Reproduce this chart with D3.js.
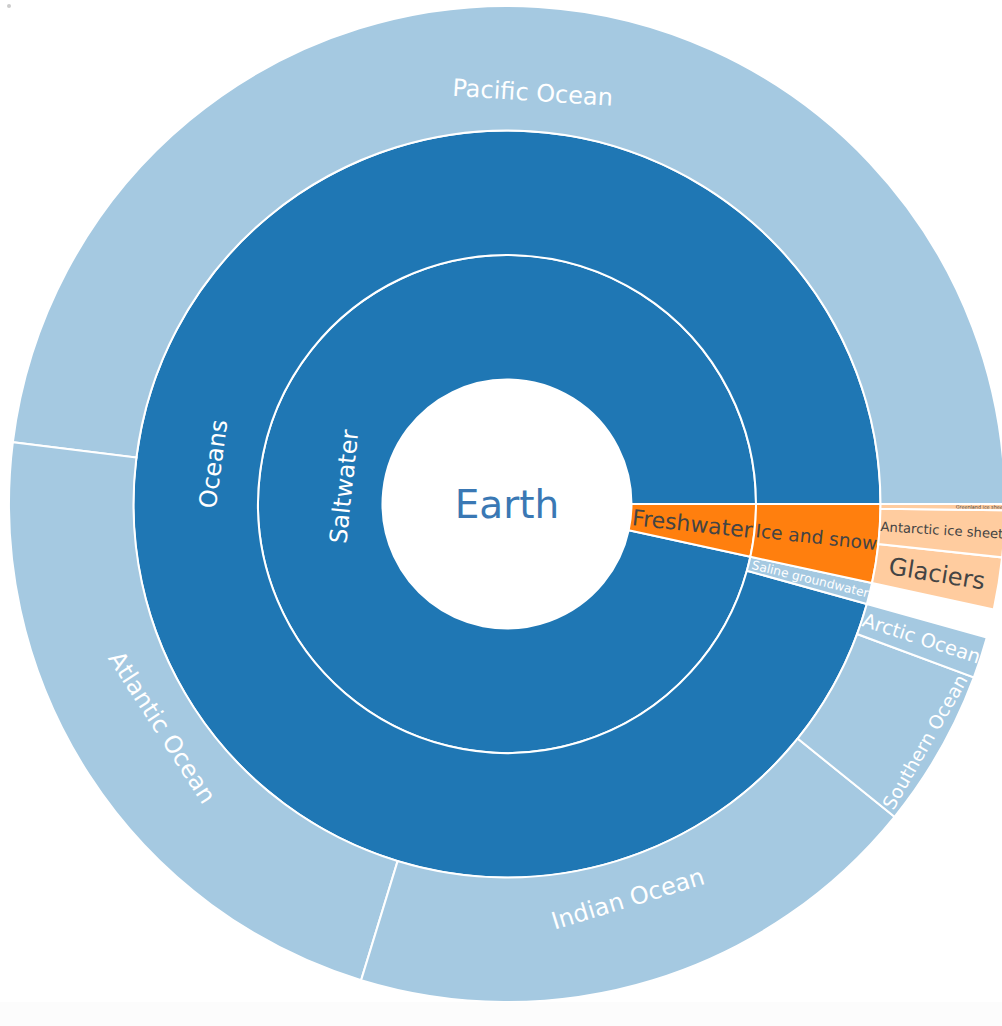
<!DOCTYPE html>
<html><head><meta charset="utf-8">
<script src="https://cdn.jsdelivr.net/npm/d3@7"></script>
<style>
html,body{margin:0;padding:0;background:#fcfcfc;}
svg{display:block;background:#fff;}
text{font-family:"DejaVu Sans",Verdana,sans-serif;}
</style></head><body>
<svg id="chart" width="1002" height="1002"></svg>
<script>
// ---- data (volumes, km³) ----
const labels = ["Earth","Saltwater","Freshwater","Oceans","Saline groundwater","Ice and snow",
  "Pacific Ocean","Atlantic Ocean","Indian Ocean","Southern Ocean","Arctic Ocean",
  "Glaciers","Antarctic ice sheet","Greenland ice sheet"];
const parents = ["","Earth","Earth","Saltwater","Saltwater","Freshwater",
  "Oceans","Oceans","Oceans","Oceans","Oceans",
  "Ice and snow","Ice and snow","Ice and snow"];
const values = [0,0,0,0,12870000,0,
  669880000,310410900,264000000,71800000,18750000,
  23500000,21000000,2850000];
const branchColors = ["#1f77b4","#ff7f0e"]; // Saltwater, Freshwater

// ---- layout ----
const cx = 507, cy = 504, R = 498;
const baseFont = 24, rootFont = 39, TEXTPAD = 3;
const svg = d3.select("#chart");

const rows = labels.map((l,i)=>({id:l, parent:parents[i]||null, value:values[i]}));
const root = d3.stratify().id(d=>d.id).parentId(d=>d.parent)(rows)
  .sum(d=>d.value).sort((a,b)=>b.value-a.value);
const depthMax = root.height + 1;
d3.partition().size([2*Math.PI, depthMax])(root);
const rScale = d3.scaleLinear().domain([0, depthMax]).range([0, R]);
const colorOf = d3.scaleOrdinal().domain(root.children.map(d=>d.id)).range(branchColors);

function branch(d){ let n=d; while(n.depth>1) n=n.parent; return n; }
function fillOf(d){
  if(d.depth===0) return "#ffffff";
  const c = colorOf(branch(d).id);
  return d.children ? c : d3.interpolateRgb(c, "#ffffff")(0.6);
}
function textColor(d){
  if(d.depth===0) return "#3a78b4";
  return branch(d).id==="Freshwater" ? "#444444" : "#ffffff";
}

// plotly-like angles: counterclockwise from 3 o'clock
const arc = d3.arc()
  .startAngle(d=>Math.PI/2 - d.x1)
  .endAngle(d=>Math.PI/2 - d.x0)
  .innerRadius(d=>rScale(d.y0))
  .outerRadius(d=>rScale(d.y1));

const g = svg.append("g").attr("transform",`translate(${cx},${cy})`);
g.selectAll("path").data(root.descendants()).join("path")
  .attr("d", arc)
  .attr("fill", fillOf)
  .attr("stroke", "#ffffff")
  .attr("stroke-width", 2);

// ---- text fitting (plotly sunburst style) ----
function maxHalfSize(a, half, r, ring){
  const q = a + 1/(2*Math.tan(half));
  return r*Math.min(1/(Math.sqrt(q*q+0.5)+q), ring/(Math.sqrt(a*a+ring/2)+a));
}
function rCenterF(a,b){ return Math.cos(b) - a*b; }
function fit(bb, d){
  const rpx0 = rScale(d.y0), rpx1 = rScale(d.y1);
  const diam = Math.hypot(bb.width, bb.height);
  if(d.depth===0) return {scale: rpx1*2/diam, rc:0, mode:"h", rpx1};
  const half = (d.x1-d.x0)/2;
  const ring = (rpx1-rpx0)/rpx1;
  const list = [];
  const rIns = Math.max(0, Math.min(1/(1+1/Math.sin(half)), ring/2));
  const h = {scale: rIns*rpx1*2/diam, rc: 1-rIns, mode:"h", rpx1};
  if(h.scale>=1) return h;
  list.push(h);
  const r = Math.max(0, rpx1-2*TEXTPAD);
  let a = bb.width/bb.height, s = maxHalfSize(a, half, r, ring);
  list.push({scale: 2*s/bb.height, rc: rCenterF(a, s/r), mode:"rad", rpx1});
  a = bb.height/bb.width; s = maxHalfSize(a, half, r, ring);
  list.push({scale: 2*s/bb.width, rc: rCenterF(a, s/r), mode:"tan", rpx1});
  let best = list[0];
  list.forEach(t=>{ if(t.scale>best.scale) best=t; });
  return best;
}
const mod = (x,m)=>((x%m)+m)%m;

const tg = g.append("g");
root.descendants().forEach(d=>{
  const fs0 = d.depth===0 ? rootFont : baseFont;
  const t = tg.append("text").text(d.id)
    .attr("font-size", fs0).attr("text-anchor","middle");
  const bb = t.node().getBBox();
  const tr = fit(bb, d);
  const sc = Math.min(1, tr.scale);
  const mid = (d.x0+d.x1)/2;
  const phi = -mid*180/Math.PI; // screen angle, clockwise from +x
  let rot = 0;
  if(tr.mode==="rad") rot = mod(phi+90,180)-90;
  else if(tr.mode==="tan") rot = mod(phi,180)-90;
  const rc = tr.rc*tr.rpx1;
  const x = rc*Math.cos(mid), y = -rc*Math.sin(mid);
  t.attr("font-size", fs0*sc)
   .attr("dy","0.35em")
   .attr("fill", textColor(d))
   .attr("transform",`translate(${x},${y}) rotate(${rot})`);
});

// small grey marker at top-left corner
svg.append("circle").attr("cx",9).attr("cy",6).attr("r",2).attr("fill","#cccccc");
</script>
</body></html>
